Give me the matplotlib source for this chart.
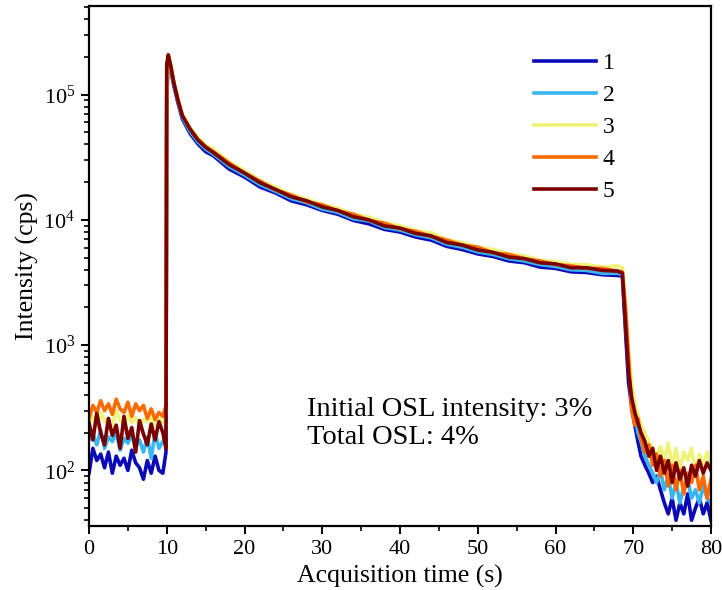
import matplotlib
matplotlib.use("Agg")
import matplotlib.pyplot as plt
from matplotlib.ticker import MultipleLocator, LogLocator, NullFormatter

plt.rcParams['font.family'] = ['Liberation Serif', 'DejaVu Serif']
plt.rcParams['mathtext.fontset'] = 'custom'
plt.rcParams['mathtext.rm'] = 'Liberation Serif'

# ---------------- data ----------------
t = [0.0, 0.5, 1.0, 1.5, 2.0, 2.5, 3.0, 3.5, 4.0, 4.5, 5.0, 5.5, 6.0, 6.5, 7.0, 7.5, 8.0, 8.5, 9.0, 9.5, 9.9,
     10.0, 10.2, 10.5, 10.9, 11.4, 12.0, 13.0, 14.0, 15.0,
     16.0, 18.0, 20.0, 22.0, 24.0, 26.0, 28.0, 30.0, 32.0, 34.0, 36.0, 38.0, 40.0, 42.0,
     44.0, 46.0, 48.0, 50.0, 52.0, 54.0, 56.0, 58.0, 60.0, 62.0, 64.0, 66.0, 68.0, 68.6,
     69.0, 69.4, 69.8, 70.2, 70.6, 71.0, 71.5, 72.0, 72.5, 73.0, 73.5, 74.0, 74.5, 75.0,
     75.5, 76.0, 76.5, 77.0, 77.5, 78.0, 78.5, 79.0, 79.5, 80.0]

s1 = [95, 150, 120, 135, 105, 140, 95, 130, 110, 125, 100, 145, 115, 105, 85, 120, 95, 130, 100, 95, 140,
      95000, 180000, 160000, 118000, 88000, 64000, 49000, 40500, 35000,
      32500, 25500, 22000, 18300, 16400, 14200, 13200, 11900, 11100, 9900, 9300, 8400, 8000, 7300,
      6900, 6150, 5800, 5350, 5100, 4700, 4550, 4200, 4100, 3850, 3800, 3650, 3600, 3550,
      1300, 500, 320, 230, 170, 130, 110, 95, 80, 90, 70, 55, 45, 60,
      40, 55, 45, 65, 40, 50, 60, 45, 55, 40]

s2 = [175, 195, 160, 210, 150, 185, 170, 200, 145, 180, 165, 190, 155, 175, 140, 185, 125, 200, 150, 170, 190,
      150000, 195000, 168000, 123000, 91000, 66000, 51000, 42000, 36800,
      33500, 26800, 22800, 19100, 16900, 14800, 13700, 12200, 11500, 10200, 9800, 8700, 8300, 7600,
      7200, 6400, 6050, 5550, 5300, 4900, 4700, 4400, 4250, 4000, 3950, 3750, 3750, 3650,
      1600, 650, 420, 270, 200, 170, 130, 110, 95, 80, 100, 70, 90, 60,
      80, 55, 75, 85, 60, 70, 55, 75, 60, 55]

s3 = [240, 270, 225, 290, 245, 260, 230, 300, 250, 235, 275, 240, 265, 225, 255, 245, 270, 230, 260, 240, 280,
      90000, 200000, 175000, 128000, 95000, 70000, 54500, 45500, 39500,
      36500, 29000, 24800, 20600, 18200, 15900, 14700, 13200, 12400, 11100, 10500, 9500, 9000, 8200,
      7900, 6950, 6600, 6050, 5800, 5350, 5150, 4750, 4650, 4400, 4400, 4200, 4300, 4150,
      2200, 900, 500, 350, 280, 230, 200, 170, 150, 130, 155, 120, 165, 110,
      150, 100, 140, 120, 150, 95, 135, 110, 140, 115]

s4 = [260, 330, 290, 360, 300, 340, 280, 370, 310, 290, 350, 270, 340, 300, 330, 260, 310, 255, 290, 270, 330,
      160000, 205000, 172000, 126000, 93000, 68500, 53500, 44000, 38500,
      35000, 28500, 23600, 20400, 17300, 15800, 13900, 13200, 11800, 11100, 9900, 9400, 8500, 8100,
      7400, 6900, 6300, 6050, 5450, 5300, 4900, 4700, 4400, 4300, 4100, 4100, 3900, 3850,
      2000, 800, 300, 230, 260, 180, 140, 160, 110, 135, 90, 120, 75, 110,
      70, 100, 65, 95, 80, 110, 70, 90, 60, 85]

s5 = [240, 175, 285, 200, 160, 260, 190, 230, 150, 270, 180, 220, 140, 250, 195, 160, 235, 175, 245, 200, 150,
      175000, 208000, 170000, 125000, 92000, 68000, 53000, 43500, 38000,
      34500, 27700, 23700, 19800, 17500, 15300, 14200, 12700, 11900, 10600, 10000, 8950, 8600, 7800,
      7450, 6600, 6300, 5750, 5500, 5050, 4900, 4550, 4450, 4150, 4150, 3950, 3900, 3750,
      1500, 600, 380, 290, 240, 200, 170, 130, 150, 100, 130, 95, 120, 80,
      115, 85, 105, 75, 110, 90, 120, 95, 115, 100]

labels = ['1', '2', '3', '4', '5']
colors = ['#0A0AB8', '#38B6F2', '#F0F27A', '#FF6A00', '#7A0000']
series = [s1, s2, s3, s4, s5]

x_ticks = [0, 10, 20, 30, 40, 50, 60, 70, 80]
annot = ["Initial OSL intensity: 3%", "Total OSL: 4%"]

# ---------------- figure ----------------
W, H = 722, 590
fig = plt.figure(figsize=(W / 100, H / 100), dpi=100)
ax = fig.add_axes([89 / W, 1 - 526 / H, (711 - 89) / W, (526 - 6) / H])

for s, c, lab in zip(series, colors, labels):
    ax.plot(t, s, color=c, lw=2.6, label=lab, solid_joinstyle='round')

ax.set_yscale('log')
ax.set_xlim(0, 80)
ax.set_ylim(36, 5.1e5)
ax.set_xticks(x_ticks)
ax.xaxis.set_minor_locator(MultipleLocator(5))
ax.yaxis.set_major_locator(LogLocator(base=10, numticks=10))
ax.yaxis.set_minor_locator(LogLocator(base=10, subs=range(2, 10), numticks=20))
ax.yaxis.set_minor_formatter(NullFormatter())

for sp in ax.spines.values():
    sp.set_linewidth(1.6)
ax.tick_params(which='major', direction='out', length=6, width=1.4, labelsize=16, pad=4)
ax.tick_params(which='minor', direction='out', length=3.5, width=1.2)

ax.set_xlabel('Acquisition time (s)', fontsize=18.5, labelpad=4.5)
ax.set_ylabel('Intensity (cps)', fontsize=18.5, labelpad=3)

leg = ax.legend(loc='upper left', bbox_to_anchor=(0.716, 0.911), frameon=False,
                fontsize=17, handlelength=2.6, handletextpad=0.3, labelspacing=0.45,
                borderpad=0, borderaxespad=0)
for ln in leg.get_lines():
    ln.set_linewidth(2.6)

ax.text(0.351, 0.197, annot[0] + "\n" + annot[1], transform=ax.transAxes,
        fontsize=20.5, va='center', ha='left', linespacing=1.18)

fig.savefig('out.png', dpi=100)
